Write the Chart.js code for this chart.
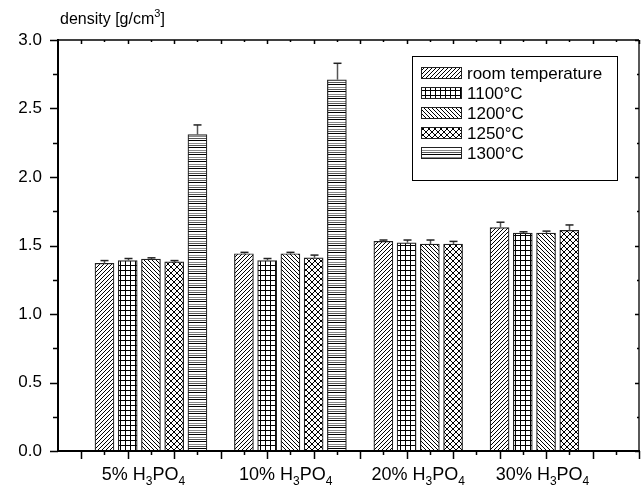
<!DOCTYPE html>
<html>
<head>
<meta charset="utf-8">
<script src="https://cdn.jsdelivr.net/npm/chart.js@4.4.0/dist/chart.umd.min.js"></script>
<style>
  html, body { margin: 0; padding: 0; background: #fff; }
  #wrap { width: 643px; height: 488px; }
</style>
</head>
<body>
<div id="wrap"><canvas id="densityChart" width="643" height="488"></canvas></div>
<script>
// acid concentration groups (x axis labels)
const groups = ['5%', '10%', '20%', '30%'];
const seriesNames = ['room temperature', '1100°C', '1200°C', '1250°C', '1300°C'];

// density values [g/cm3], one entry per group
const roomTemp = [1.37, 1.44, 1.53, 1.63];
const t1100 = [1.39, 1.39, 1.52, 1.59];
const t1200 = [1.40, 1.44, 1.51, 1.59];
const t1250 = [1.38, 1.41, 1.51, 1.61];
const t1300 = [2.31, 2.71, null, null];

// error bar half-heights
const errRoom = [0.02, 0.01, 0.01, 0.04];
const err1100 = [0.015, 0.015, 0.02, 0.01];
const err1200 = [0.01, 0.01, 0.03, 0.015];
const err1250 = [0.01, 0.02, 0.02, 0.04];
const err1300 = [0.07, 0.12, null, null];

// y axis ticks
const yTicks = [0.0, 0.5, 1.0, 1.5, 2.0, 2.5, 3.0];

// first bar slot of each group on the x axis and where the group label sits
const groupStart = [2, 8, 14, 19];
const labelAt = [3.68, 9.8, 15.5, 20.85];

const values = [roomTemp, t1100, t1200, t1250, t1300];
const errors = [errRoom, err1100, err1200, err1250, err1300];
const patternKinds = ['fwd', 'grid', 'back', 'cross', 'horiz'];

function makePattern(kind) {
    const c = document.createElement('canvas');
    const g = c.getContext('2d');
    let w = 4, h = 4;
    if (kind === 'grid') { w = h = 5; }
    if (kind === 'cross') { w = h = 6; }
    if (kind === 'horiz') { w = 4; h = 7; }
    c.width = w; c.height = h;
    g.fillStyle = '#fff';
    g.fillRect(0, 0, w, h);
    g.strokeStyle = '#000';
    g.fillStyle = '#000';
    g.lineWidth = 1;
    const fwd = () => {
        g.beginPath();
        g.moveTo(0, h); g.lineTo(w, 0);
        g.moveTo(-w, h); g.lineTo(0, 0);
        g.moveTo(w, h); g.lineTo(2 * w, 0);
        g.stroke();
    };
    const back = () => {
        g.beginPath();
        g.moveTo(0, 0); g.lineTo(w, h);
        g.moveTo(-w, 0); g.lineTo(0, h);
        g.moveTo(w, 0); g.lineTo(2 * w, h);
        g.stroke();
    };
    if (kind === 'fwd') fwd();
    if (kind === 'back') back();
    if (kind === 'cross') { fwd(); back(); }
    if (kind === 'grid') {
        g.fillRect(0, 0, w, 1);
        g.fillRect(0, 0, 1, h);
    }
    if (kind === 'horiz') {
        g.fillRect(0, 0, w, 1);
        g.fillStyle = '#8a8a8a';
        g.fillRect(0, 3, w, 1);
        g.fillStyle = '#555';
        g.fillRect(0, 5, w, 1);
    }
    return document.createElement('canvas').getContext('2d').createPattern(c, 'repeat');
}

const patterns = patternKinds.map(makePattern);

const datasets = values.map(function(vals, si) {
    const pts = [];
    vals.forEach(function(v, gi) {
        if (v !== null) pts.push({ x: groupStart[gi] + si, y: v, err: errors[si][gi] });
    });
    return {
        label: seriesNames[si],
        data: pts,
        backgroundColor: patterns[si],
        borderColor: '#222',
        borderWidth: 1.2,
        borderSkipped: false,
        barThickness: 19,
        grouped: false
    };
});

const FONT = '"Liberation Sans", Arial, sans-serif';

function drawChem(ctx, prefix, cx, baseY) {
    const parts = [
        { t: prefix + ' H', sub: false },
        { t: '3', sub: true },
        { t: 'PO', sub: false },
        { t: '4', sub: true }
    ];
    const big = '18px ' + FONT, small = '12px ' + FONT;
    let total = 0;
    parts.forEach(function(p) {
        ctx.font = p.sub ? small : big;
        p.w = ctx.measureText(p.t).width;
        total += p.w;
    });
    let x = cx - total / 2;
    ctx.textAlign = 'left';
    ctx.textBaseline = 'alphabetic';
    parts.forEach(function(p) {
        ctx.font = p.sub ? small : big;
        ctx.fillText(p.t, x, p.sub ? baseY + 5 : baseY);
        x += p.w;
    });
}

// frame, minor ticks, category labels, y title
const framePlugin = {
    id: 'frame',
    afterDatasetsDraw: function(chart) {
        const ctx = chart.ctx;
        const a = chart.chartArea;
        const xs = chart.scales.x, ys = chart.scales.y;
        ctx.save();
        ctx.strokeStyle = '#000';
        ctx.lineCap = 'butt';

        // top and right frame
        ctx.lineWidth = 1.3;
        ctx.beginPath();
        ctx.moveTo(a.left, a.top); ctx.lineTo(a.right, a.top);
        ctx.moveTo(a.right, a.top); ctx.lineTo(a.right, a.bottom);
        ctx.stroke();

        // ticks along x (bottom outward, top inward)
        ctx.lineWidth = 1.5;
        ctx.beginPath();
        for (let u = 1; u <= xs.max; u++) {
            const px = Math.round(xs.getPixelForValue(u)) + 0.5;
            const len = (u % 2 === 1) ? 8 : 4;
            ctx.moveTo(px, a.bottom); ctx.lineTo(px, a.bottom + len);
            ctx.moveTo(px, a.top); ctx.lineTo(px, a.top + (u % 2 === 1 ? 4 : 2));
        }
        // ticks along y (left outward, right inward)
        for (let v = 0; v <= 3.0001; v += 0.25) {
            const py = Math.round(ys.getPixelForValue(v)) + 0.5;
            const major = Math.abs(v * 2 - Math.round(v * 2)) < 1e-6;
            ctx.moveTo(a.left, py); ctx.lineTo(a.left - (major ? 8 : 5), py);
            ctx.moveTo(a.right, py); ctx.lineTo(a.right - (major ? 4 : 2), py);
        }
        ctx.stroke();

        // left and bottom axes, thick
        ctx.lineWidth = 2;
        ctx.beginPath();
        ctx.moveTo(a.left, a.top - 1); ctx.lineTo(a.left, a.bottom + 1);
        ctx.moveTo(a.left - 1, a.bottom); ctx.lineTo(a.right + 1, a.bottom);
        ctx.stroke();

        // category labels with subscripts
        ctx.fillStyle = '#000';
        groups.forEach(function(gname, i) {
            drawChem(ctx, gname, xs.getPixelForValue(labelAt[i]), a.bottom + 29);
        });

        // y axis title
        ctx.font = '16px ' + FONT;
        ctx.textAlign = 'left';
        ctx.textBaseline = 'alphabetic';
        const t1 = 'density [g/cm';
        ctx.fillText(t1, 60, 24);
        const w1 = ctx.measureText(t1).width;
        ctx.font = '11px ' + FONT;
        ctx.fillText('3', 60 + w1, 17);
        const w2 = ctx.measureText('3').width;
        ctx.font = '16px ' + FONT;
        ctx.fillText(']', 60 + w1 + w2, 24);
        ctx.restore();
    }
};

// upward error bars on each bar
const errorBarPlugin = {
    id: 'errorBars',
    afterDatasetsDraw: function(chart) {
        const ctx = chart.ctx;
        const ys = chart.scales.y;
        ctx.save();
        chart.data.datasets.forEach(function(ds, di) {
            const meta = chart.getDatasetMeta(di);
            meta.data.forEach(function(bar, i) {
                const d = ds.data[i];
                if (!d || d.err == null) return;
                const top = ys.getPixelForValue(d.y);
                const end = ys.getPixelForValue(d.y + d.err);
                const x = Math.round(bar.x) + 0.5;
                ctx.strokeStyle = '#555';
                ctx.lineWidth = 1.5;
                ctx.beginPath();
                ctx.moveTo(x, top); ctx.lineTo(x, end);
                ctx.stroke();
                ctx.strokeStyle = '#222';
                ctx.beginPath();
                ctx.moveTo(x - 4, end); ctx.lineTo(x + 4, end);
                ctx.stroke();
            });
        });
        ctx.restore();
    }
};

// boxed legend with pattern swatches
const legendPlugin = {
    id: 'boxLegend',
    afterDraw: function(chart) {
        const ctx = chart.ctx;
        ctx.save();
        ctx.fillStyle = '#fff';
        ctx.fillRect(412.5, 56.5, 205, 124);
        ctx.strokeStyle = '#000';
        ctx.lineWidth = 1;
        ctx.strokeRect(412.5, 56.5, 205, 124);
        seriesNames.forEach(function(name, i) {
            const cy = 73 + i * 20;
            ctx.fillStyle = patterns[i];
            ctx.fillRect(421, cy - 5, 40, 11);
            ctx.strokeStyle = '#222';
            ctx.lineWidth = 1;
            ctx.strokeRect(421.5, cy - 5.5, 40, 11);
            ctx.fillStyle = '#000';
            ctx.font = '17px ' + FONT;
            ctx.textAlign = 'left';
            ctx.textBaseline = 'middle';
            ctx.fillText(name, 467, cy + 1);
        });
        ctx.restore();
    }
};

const chart = new Chart(document.getElementById('densityChart').getContext('2d'), {
    type: 'bar',
    data: { datasets: datasets },
    options: {
        responsive: false,
        animation: false,
        layout: { padding: { top: 40, right: 4, left: 0, bottom: 0 } },
        plugins: {
            legend: { display: false },
            tooltip: { enabled: false }
        },
        scales: {
            x: {
                type: 'linear',
                min: 0,
                max: 25,
                offset: false,
                grid: { display: false, drawTicks: false },
                border: { display: false },
                ticks: { display: false },
                afterFit: function(scale) { scale.height = 37; }
            },
            y: {
                min: 0,
                max: 3,
                grid: { display: false, drawTicks: false },
                border: { display: false },
                afterBuildTicks: function(scale) {
                    scale.ticks = yTicks.map(function(v) { return { value: v }; });
                },
                ticks: {
                    padding: 16,
                    color: '#000',
                    font: { family: FONT, size: 17 },
                    callback: function(v) { return Number(v).toFixed(1); }
                },
                afterFit: function(scale) { scale.width = 58; }
            }
        }
    },
    plugins: [framePlugin, errorBarPlugin, legendPlugin]
});
</script>
</body>
</html>
